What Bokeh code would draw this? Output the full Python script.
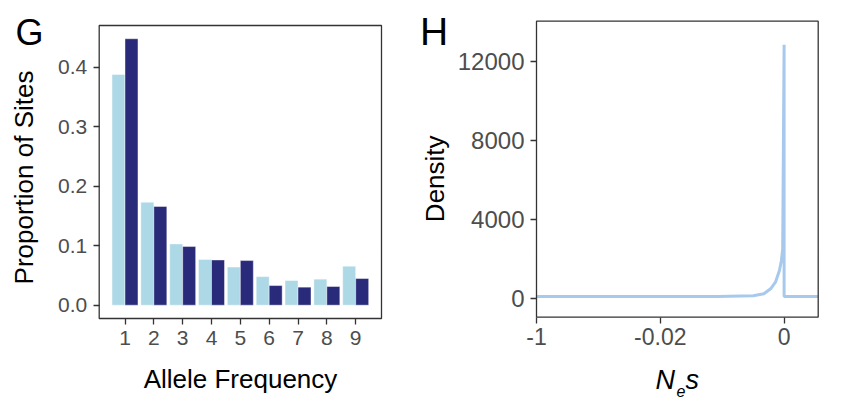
import numpy as np
from bokeh.plotting import figure
from bokeh.layouts import row
from bokeh.models import FixedTicker, Range1d, Label, NumeralTickFormatter
from bokeh.embed import file_html
from bokeh.resources import INLINE

# ---------------- Panel G data ----------------
allele_freq = [1, 2, 3, 4, 5, 6, 7, 8, 9]
prop_light = [0.388, 0.173, 0.103, 0.077, 0.064, 0.048, 0.0415, 0.0437, 0.0655]
prop_dark = [0.448, 0.166, 0.0986, 0.076, 0.075, 0.033, 0.0303, 0.0314, 0.0448]
g_yticks = [0.0, 0.1, 0.2, 0.3, 0.4]
g_xlim = [0.105, 9.895]
g_ylim = [-0.0224, 0.4703]

# ---------------- Panel H data ----------------
ne_s = [-1.0, -0.3, -0.05, -0.01, -0.003, -0.00068, -0.00037, -0.00022,
        -0.00013, -0.000066, -0.000037, -0.000019, 0.0, 0.0, 0.0008]
density = [120, 120, 120, 120, 125, 160, 263, 515,
           849, 1440, 1945, 2536, 12840, 120, 120]
h_xticks = [-1, -0.02, 0]
h_xlabels = ["-1", "-0.02", "0"]
h_yticks = [0, 4000, 8000, 12000]
h_xlim = [-1, 0.0008]
h_ylim = [-920, 14036]

FONT = "Liberation Sans"
LIGHT = "#ADD8E6"
DARK = "#292B7A"
LINE = "#A6C9EC"
FRAME = "#333333"
H = 400

# pseudo-log style transform for the Ne*s axis
C = 0.02 ** 2 / 0.96
def tr(v):
    v = np.asarray(v, dtype=float)
    return np.sign(v) * np.log10(1 + np.abs(v) / C) / np.log10(1 + 0.02 / C)


def ranges(W, px_l, px_r, px_t, px_b, xlim, ylim):
    """Canvas-wide ranges so that the panel box lands on the given pixels."""
    sx = (xlim[1] - xlim[0]) / (px_r - px_l)
    sy = (ylim[1] - ylim[0]) / (px_b - px_t)
    return (Range1d(xlim[0] - px_l * sx, xlim[1] + (W - px_r) * sx),
            Range1d(ylim[0] - (H - px_b) * sy, ylim[1] + px_t * sy))


def make_fig(W, xr, yr, xlim, ylim, tick_fs):
    p = figure(width=W, height=H, output_backend="svg", toolbar_location=None,
               x_range=xr, y_range=yr, min_border=0, min_border_left=0,
               min_border_right=0, min_border_top=0, min_border_bottom=0)
    p.title.visible = False
    p.background_fill_color = "white"
    p.border_fill_color = "white"
    p.outline_line_color = None
    p.xgrid.visible = False
    p.ygrid.visible = False
    p.xaxis.fixed_location = ylim[0]
    p.yaxis.fixed_location = xlim[0]
    for ax in (p.xaxis[0], p.yaxis[0]):
        ax.axis_line_color = None
        ax.major_tick_line_color = FRAME
        ax.major_tick_line_width = 1.3
        ax.major_tick_out = 6
        ax.major_tick_in = 0
        ax.minor_tick_line_color = None
        ax.major_label_text_font = FONT
        ax.major_label_text_font_size = f"{tick_fs}px"
        ax.major_label_text_color = "#4D4D4D"
    return p


def label(p, text, x, base, fs, angle=0.0, align="left", style="normal"):
    """Place text so its baseline sits at `base` px (from top, or from left when rotated)."""
    shift = 0.358 * fs  # label anchor sits at the cap-height middle
    if angle:
        lx, ly = base - shift, H - x
    else:
        lx, ly = x, H - base + shift
    p.add_layout(Label(x=lx, y=ly, x_units="screen", y_units="screen", text=text,
                       angle=angle, text_font=FONT, text_font_size=f"{fs}px",
                       text_font_style=style, text_color="black",
                       text_baseline="alphabetic", text_align=align))


# ---------------- Panel G ----------------
W1 = 410
xr1, yr1 = ranges(W1, 98.7, 381, 25, 318, g_xlim, g_ylim)
p1 = make_fig(W1, xr1, yr1, g_xlim, g_ylim, 21)
x = np.array(allele_freq, dtype=float)
p1.vbar(x=x - 0.225, top=prop_light, bottom=0, width=0.45,
        fill_color=LIGHT, line_color="white", line_width=0.6, line_alpha=0.7)
p1.vbar(x=x + 0.225, top=prop_dark, bottom=0, width=0.45,
        fill_color=DARK, line_color="white", line_width=0.6, line_alpha=0.7)
p1.quad(left=g_xlim[0], right=g_xlim[1], bottom=g_ylim[0], top=g_ylim[1],
        fill_color=None, line_color=FRAME, line_width=1.3)
p1.xaxis.ticker = FixedTicker(ticks=allele_freq)
p1.yaxis.ticker = FixedTicker(ticks=g_yticks)
p1.yaxis.formatter = NumeralTickFormatter(format="0.0")
p1.xaxis.major_label_standoff = 6
p1.yaxis.major_label_standoff = 6
label(p1, "G", 15, 44.5, 36)
label(p1, "Allele Frequency", 240, 388, 26, align="center")
label(p1, "Proportion of Sites", 177, 33.3, 26, angle=np.pi / 2, align="center")

# ---------------- Panel H ----------------
W2 = 440
xlim_t = [float(v) for v in tr(h_xlim)]
xr2, yr2 = ranges(W2, 126, 407.7, 20.7, 316.7, xlim_t, h_ylim)
p2 = make_fig(W2, xr2, yr2, xlim_t, h_ylim, 23)
p2.yaxis.major_label_text_font_size = "24px"
p2.line(x=tr(ne_s), y=density, line_color=LINE, line_width=3)
p2.quad(left=xlim_t[0], right=xlim_t[1], bottom=h_ylim[0], top=h_ylim[1],
        fill_color=None, line_color=FRAME, line_width=1.3)
xt = [round(float(v), 5) for v in tr(h_xticks)]
p2.xaxis.ticker = FixedTicker(ticks=xt)
p2.xaxis.major_label_overrides = {k: lab for k, lab in zip(xt, h_xlabels)}
p2.yaxis.ticker = FixedTicker(ticks=h_yticks)
p2.xaxis.major_label_standoff = 5
p2.yaxis.major_label_standoff = 6
label(p2, "H", 9.5, 45, 39)
label(p2, "Density", 178.3, 33.5, 26, angle=np.pi / 2, align="center")
label(p2, "N", 245, 389, 27, style="italic")
label(p2, "e", 266, 396.5, 16, style="italic")
label(p2, "s", 275, 389, 27, style="italic")

layout = row(p1, p2)
open("out.html", "w").write(file_html(layout, INLINE))
